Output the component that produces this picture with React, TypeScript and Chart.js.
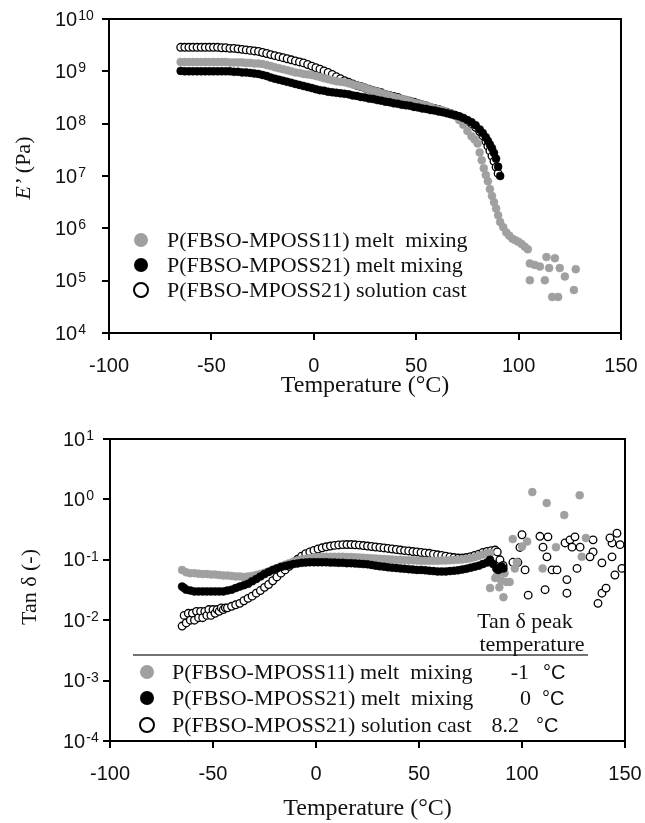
import React, { useEffect, useRef } from 'react';
import { Chart, registerables } from 'chart.js';

Chart.register(...registerables);

const SERIF = '"Liberation Serif", "Times New Roman", serif';
const SANS = '"Liberation Sans", Arial, sans-serif';
const GRAY = '#a0a0a0';

// ---------- Top panel: storage modulus E' (Pa) vs temperature (°C) ----------
const eGray: [number, number][] = [
  [-65, 1.51e9], [-63, 1.51e9], [-61, 1.51e9], [-59, 1.51e9], [-57, 1.51e9], [-55, 1.51e9], [-53, 1.51e9], [-51, 1.51e9],
  [-49, 1.51e9], [-47, 1.51e9], [-45, 1.51e9], [-43, 1.51e9], [-41, 1.48e9], [-39, 1.48e9], [-37, 1.48e9], [-35, 1.48e9],
  [-33, 1.45e9], [-31, 1.45e9], [-29, 1.41e9], [-27, 1.41e9], [-25, 1.38e9], [-23, 1.32e9], [-21, 1.26e9], [-19, 1.2e9],
  [-17, 1.15e9], [-15, 1.1e9], [-13, 1.05e9], [-11, 1.0e9], [-9, 9.55e8], [-7, 9.33e8], [-5, 8.91e8], [-3, 8.71e8],
  [-1, 8.51e8], [1, 8.13e8], [3, 7.76e8], [5, 7.41e8], [7, 7.08e8], [9, 6.76e8], [11, 6.46e8], [13, 6.31e8],
  [15, 6.17e8], [17, 5.89e8], [19, 5.62e8], [21, 5.37e8], [23, 5.13e8], [25, 4.79e8], [27, 4.57e8], [29, 4.27e8],
  [31, 4.07e8], [33, 3.8e8], [35, 3.63e8], [37, 3.47e8], [39, 3.24e8], [41, 3.09e8], [43, 2.95e8], [45, 2.82e8],
  [47, 2.69e8], [49, 2.51e8], [51, 2.4e8], [53, 2.29e8], [55, 2.19e8], [57, 2.09e8], [59, 1.95e8], [61, 1.86e8],
  [63, 1.78e8], [65, 1.66e8], [67, 1.55e8], [69, 1.41e8], [71, 1.17e8], [73, 9.55e7], [75, 7.24e7], [77, 5.75e7],
  [78.5, 5.01e7], [80, 4.17e7], [81, 2.82e7], [82, 2.0e7], [83, 1.41e7], [84, 1.05e7], [85, 7.94e6], [86, 5.62e6],
  [87, 4.17e6], [88, 3.16e6], [89, 2.4e6], [90, 1.78e6], [91, 1.32e6], [92.5, 1.05e6], [94, 8.32e5], [95.5, 7.24e5],
  [97, 6.31e5], [98.5, 5.89e5], [100, 5.5e5], [101.5, 5.01e5], [103, 4.47e5], [104.5, 3.98e5],
  [105.5, 2.14e5], [107.9, 2.0e5], [110.4, 1.86e5], [105.5, 1.02e5], [112.8, 1.02e5], [113.6, 2.82e5], [117.7, 2.69e5],
  [114.9, 1.74e5], [120.1, 1.74e5], [122.6, 1.2e5], [116.4, 4.9e4], [119.3, 4.9e4], [127.9, 1.66e5], [127, 6.61e4],
];

const eBlack: [number, number][] = [
  [-65, 1.02e9], [-63, 1.0e9], [-61, 1.0e9], [-59, 1.0e9], [-57, 1.0e9], [-55, 1.0e9], [-53, 1.0e9], [-51, 1.0e9],
  [-49, 1.0e9], [-47, 1.0e9], [-45, 1.0e9], [-43, 1.0e9], [-41, 1.0e9], [-39, 9.77e8], [-37, 9.77e8], [-35, 9.55e8],
  [-33, 9.55e8], [-31, 9.33e8], [-29, 9.12e8], [-27, 8.91e8], [-25, 8.51e8], [-23, 8.13e8], [-21, 7.59e8], [-19, 7.24e8],
  [-17, 6.92e8], [-15, 6.61e8], [-13, 6.31e8], [-11, 6.03e8], [-9, 5.75e8], [-7, 5.5e8], [-5, 5.25e8], [-3, 5.01e8],
  [-1, 4.79e8], [1, 4.57e8], [3, 4.37e8], [5, 4.27e8], [7, 4.07e8], [9, 3.98e8], [11, 3.89e8], [13, 3.8e8],
  [15, 3.72e8], [17, 3.63e8], [19, 3.47e8], [21, 3.39e8], [23, 3.24e8], [25, 3.16e8], [27, 3.02e8], [29, 2.95e8],
  [31, 2.82e8], [33, 2.75e8], [35, 2.63e8], [37, 2.57e8], [39, 2.45e8], [41, 2.4e8], [43, 2.29e8], [45, 2.24e8],
  [47, 2.19e8], [49, 2.09e8], [51, 2.04e8], [53, 1.95e8], [55, 1.91e8], [57, 1.82e8], [59, 1.78e8], [61, 1.7e8],
  [63, 1.66e8], [65, 1.58e8], [67, 1.51e8], [69, 1.45e8], [71, 1.38e8], [73, 1.29e8], [75, 1.17e8], [77, 1.07e8],
  [79, 9.33e7], [81, 7.76e7], [82.5, 6.61e7], [84, 5.5e7], [85, 4.68e7], [86, 3.98e7], [87, 3.39e7], [88, 2.75e7],
  [89, 2.14e7], [90, 1.51e7], [91, 1.0e7],
];

const eOpen: [number, number][] = [
  [-65, 2.88e9], [-63, 2.88e9], [-61, 2.88e9], [-59, 2.88e9], [-57, 2.88e9], [-55, 2.88e9], [-53, 2.88e9], [-51, 2.88e9],
  [-49, 2.88e9], [-47, 2.88e9], [-45, 2.82e9], [-43, 2.82e9], [-41, 2.75e9], [-39, 2.75e9], [-37, 2.69e9], [-35, 2.63e9],
  [-33, 2.57e9], [-31, 2.51e9], [-29, 2.45e9], [-27, 2.4e9], [-25, 2.29e9], [-23, 2.19e9], [-21, 2.09e9], [-19, 2.0e9],
  [-17, 1.91e9], [-15, 1.82e9], [-13, 1.74e9], [-11, 1.66e9], [-9, 1.58e9], [-7, 1.51e9], [-5, 1.45e9], [-3, 1.35e9],
  [-1, 1.26e9], [1, 1.17e9], [3, 1.1e9], [5, 1.02e9], [7, 9.55e8], [9, 8.71e8], [11, 7.94e8], [13, 7.24e8],
  [15, 6.61e8], [17, 6.17e8], [19, 5.75e8], [21, 5.37e8], [23, 5.13e8], [25, 4.79e8], [27, 4.57e8], [29, 4.27e8],
  [31, 4.07e8], [33, 3.89e8], [35, 3.63e8], [37, 3.47e8], [39, 3.31e8], [41, 3.16e8], [43, 2.95e8], [45, 2.82e8],
  [47, 2.69e8], [49, 2.57e8], [51, 2.4e8], [53, 2.29e8], [55, 2.19e8], [57, 2.04e8], [59, 1.95e8], [61, 1.86e8],
  [63, 1.74e8], [65, 1.66e8], [67, 1.55e8], [69, 1.45e8], [71, 1.35e8], [73, 1.23e8], [75, 1.12e8], [77, 1.0e8],
  [79, 8.51e7], [81, 7.08e7], [82.5, 5.89e7], [84, 4.57e7], [85, 3.72e7], [86, 3.02e7], [87, 2.4e7], [88, 1.91e7],
  [89, 1.48e7], [90, 1.12e7],
];

// ---------- Bottom panel: tan delta (-) vs temperature (°C) ----------
const tanGray: [number, number][] = [
  [-65, 0.068], [-63, 0.062], [-61, 0.06], [-59, 0.06], [-57, 0.059], [-55, 0.058], [-53, 0.058], [-51, 0.057],
  [-49, 0.057], [-47, 0.056], [-45, 0.055], [-43, 0.055], [-41, 0.054], [-39, 0.053], [-37, 0.053], [-35, 0.052],
  [-33, 0.053], [-31, 0.054], [-29, 0.056], [-27, 0.058], [-25, 0.061], [-23, 0.064], [-21, 0.068], [-19, 0.073],
  [-17, 0.078], [-15, 0.083], [-13, 0.088], [-11, 0.093], [-9, 0.097], [-7, 0.101], [-5, 0.104], [-3, 0.107],
  [-1, 0.109], [1, 0.111], [3, 0.112], [5, 0.112], [7, 0.112], [9, 0.112], [11, 0.112], [13, 0.112],
  [15, 0.111], [17, 0.111], [19, 0.11], [21, 0.109], [23, 0.108], [25, 0.107], [27, 0.106], [29, 0.105],
  [31, 0.104], [33, 0.103], [35, 0.102], [37, 0.101], [39, 0.1], [41, 0.1], [43, 0.099], [45, 0.098],
  [47, 0.098], [49, 0.097], [51, 0.096], [53, 0.096], [55, 0.096], [57, 0.096], [59, 0.096], [61, 0.097],
  [63, 0.097], [65, 0.098], [67, 0.099], [69, 0.1], [71, 0.101], [73, 0.103], [75, 0.106], [77, 0.11],
  [79, 0.116], [81, 0.122], [83, 0.128], [84.5, 0.13], [84.5, 0.034], [87, 0.05], [88, 0.056], [89, 0.035],
  [90, 0.045], [91, 0.024], [91.5, 0.06], [92.5, 0.043], [94, 0.043], [96.5, 0.072], [97.5, 0.091], [95.5, 0.22],
  [100, 0.166], [102.5, 0.2], [105, 1.32], [112, 0.87], [120.5, 0.55], [128, 1.17], [110, 0.072], [116.5, 0.162],
  [129, 0.112], [131, 0.23],
];

const tanBlack: [number, number][] = [
  [-65, 0.036], [-64, 0.034], [-63, 0.032], [-61, 0.031], [-59, 0.03], [-57, 0.03], [-55, 0.03], [-53, 0.03],
  [-51, 0.03], [-49, 0.03], [-47, 0.03], [-45, 0.03], [-43, 0.031], [-41, 0.032], [-39, 0.034], [-37, 0.036],
  [-35, 0.038], [-33, 0.04], [-31, 0.044], [-29, 0.048], [-27, 0.053], [-25, 0.058], [-23, 0.063], [-21, 0.068],
  [-19, 0.072], [-17, 0.076], [-15, 0.079], [-13, 0.082], [-11, 0.085], [-9, 0.087], [-7, 0.089], [-5, 0.09],
  [-3, 0.091], [-1, 0.091], [1, 0.091], [3, 0.091], [5, 0.091], [7, 0.09], [9, 0.09], [11, 0.089],
  [13, 0.089], [15, 0.088], [17, 0.088], [19, 0.087], [21, 0.086], [23, 0.085], [25, 0.084], [27, 0.082],
  [29, 0.08], [31, 0.078], [33, 0.077], [35, 0.075], [37, 0.074], [39, 0.073], [41, 0.072], [43, 0.071],
  [45, 0.07], [47, 0.069], [49, 0.068], [51, 0.068], [53, 0.067], [55, 0.066], [57, 0.065], [59, 0.064],
  [61, 0.064], [63, 0.064], [65, 0.065], [67, 0.066], [69, 0.067], [71, 0.069], [73, 0.071], [75, 0.074],
  [77, 0.077], [79, 0.08], [81, 0.085], [83, 0.09], [84.5, 0.1], [86, 0.085], [87.5, 0.072], [88.5, 0.068],
  [90, 0.078], [91, 0.072],
];

const tanOpen: [number, number][] = [
  [-65, 0.008], [-64, 0.012], [-63, 0.009], [-62, 0.013], [-61, 0.01], [-60, 0.013], [-59, 0.01], [-58, 0.014],
  [-57, 0.011], [-56, 0.014], [-55, 0.011], [-54, 0.014], [-53, 0.012], [-52, 0.015], [-51, 0.012], [-50, 0.015],
  [-49, 0.013], [-48, 0.015], [-47, 0.014], [-46, 0.016], [-45, 0.015], [-44, 0.016], [-43, 0.016], [-41, 0.017],
  [-39, 0.018], [-37, 0.019], [-35, 0.021], [-33, 0.023], [-31, 0.025], [-29, 0.028], [-27, 0.031], [-25, 0.035],
  [-23, 0.039], [-21, 0.045], [-19, 0.052], [-17, 0.06], [-15, 0.068], [-13, 0.078], [-11, 0.09], [-9, 0.102],
  [-7, 0.115], [-5, 0.126], [-3, 0.135], [-1, 0.143], [1, 0.151], [3, 0.158], [5, 0.164], [7, 0.169],
  [9, 0.173], [11, 0.176], [13, 0.178], [15, 0.179], [17, 0.179], [19, 0.177], [21, 0.175], [23, 0.172],
  [25, 0.169], [27, 0.166], [29, 0.163], [31, 0.16], [33, 0.157], [35, 0.154], [37, 0.151], [39, 0.148],
  [41, 0.145], [43, 0.142], [45, 0.14], [47, 0.137], [49, 0.135], [51, 0.132], [53, 0.13], [55, 0.128],
  [57, 0.124], [59, 0.121], [61, 0.118], [63, 0.115], [65, 0.112], [67, 0.109], [69, 0.107], [71, 0.107],
  [73, 0.109], [75, 0.113], [77, 0.118], [79, 0.124], [81, 0.132], [83, 0.138], [85, 0.142], [87, 0.145],
  [88, 0.135], [89.3, 0.1], [90.8, 0.081], [95.6, 0.091], [98, 0.091], [99, 0.16], [100, 0.26], [101.5, 0.068],
  [103, 0.026], [108.7, 0.245], [110.2, 0.162], [112.6, 0.24], [112.1, 0.112], [111.2, 0.032], [114.6, 0.068], [117, 0.068],
  [121.8, 0.047], [121.8, 0.028], [126.7, 0.072], [120.9, 0.19], [123.3, 0.214], [125.7, 0.24], [124.3, 0.162], [128.2, 0.162],
  [134.5, 0.135], [133, 0.112], [138.8, 0.089], [136.9, 0.019], [138.8, 0.028], [140.8, 0.034], [143.7, 0.19], [146.1, 0.275],
  [147.6, 0.178], [143.7, 0.112], [145.1, 0.056], [148.5, 0.072], [134.5, 0.214], [142.7, 0.23],
];

// ---------- Axis ticks and text ----------
const xMin = -100;
const xMax = 150;
const xStep = 50;
const eTicks = [1e4, 1e5, 1e6, 1e7, 1e8, 1e9, 1e10];
const eTickExps = ['4', '5', '6', '7', '8', '9', '10'];
const tanTicks = [1e-4, 1e-3, 1e-2, 1e-1, 1e0, 1e1];
const tanTickExps = ['-4', '-3', '-2', '-1', '0', '1'];
const xTitle = 'Temperature (°C)';
const legendTop = ['P(FBSO-MPOSS11) melt  mixing', 'P(FBSO-MPOSS21) melt mixing', 'P(FBSO-MPOSS21) solution cast'];
const legendBottom = ['P(FBSO-MPOSS11) melt  mixing', 'P(FBSO-MPOSS21) melt  mixing', 'P(FBSO-MPOSS21) solution cast'];
const peakHeader = ['Tan δ peak', 'temperature'];
const peakTemps = ['-1', '0', '8.2'];
const kinds = ['gray', 'black', 'open'];

function styleFor(kind: string) {
  if (kind === 'gray') return { fill: GRAY, stroke: GRAY };
  if (kind === 'black') return { fill: '#000', stroke: '#000' };
  return { fill: '#fff', stroke: '#000' };
}

function dataset(label: string, pts: [number, number][], kind: string, r: number, order: number) {
  const s = styleFor(kind);
  return {
    label,
    data: pts.map(([x, y]) => ({ x, y })),
    showLine: false,
    pointRadius: r,
    pointHoverRadius: r,
    pointBackgroundColor: s.fill,
    pointBorderColor: s.stroke,
    pointBorderWidth: kind === 'open' ? 1.3 : 0.5,
    order,
  };
}

function drawMarker(ctx: CanvasRenderingContext2D, kind: string, x: number, y: number, r: number) {
  const s = styleFor(kind);
  ctx.beginPath();
  ctx.arc(x, y, r, 0, Math.PI * 2);
  ctx.fillStyle = s.fill;
  ctx.fill();
  if (kind === 'open') {
    ctx.lineWidth = 2;
    ctx.strokeStyle = s.stroke;
    ctx.stroke();
  }
}

function drawYLabels(chart: any, ticks: number[], exps: string[], x: number) {
  const ctx: CanvasRenderingContext2D = chart.ctx;
  const y = chart.scales.y;
  ticks.forEach((v, i) => {
    const py = y.getPixelForValue(v);
    ctx.fillStyle = '#111';
    ctx.font = `20px ${SANS}`;
    ctx.textAlign = 'left';
    ctx.textBaseline = 'middle';
    ctx.fillText('10', x, py + 1);
    const w = ctx.measureText('10').width;
    ctx.font = `14px ${SANS}`;
    ctx.textBaseline = 'alphabetic';
    ctx.fillText(exps[i], x + w + 1, py + 1);
  });
}

function drawFrame(chart: any) {
  const ctx: CanvasRenderingContext2D = chart.ctx;
  const a = chart.chartArea;
  ctx.strokeStyle = '#000';
  ctx.lineWidth = 2;
  ctx.beginPath();
  ctx.moveTo(a.left - 1, a.top);
  ctx.lineTo(a.right, a.top);
  ctx.lineTo(a.right, a.bottom + 1);
  ctx.stroke();
}

const topPlugin = {
  id: 'topDecor',
  afterDraw(chart: any) {
    const ctx: CanvasRenderingContext2D = chart.ctx;
    ctx.save();
    drawFrame(chart);
    drawYLabels(chart, eTicks, eTickExps, 55);
    // y title: E' (Pa), E' italic
    ctx.translate(24, 168);
    ctx.rotate(-Math.PI / 2);
    ctx.fillStyle = '#111';
    ctx.textBaseline = 'middle';
    ctx.textAlign = 'left';
    ctx.font = `italic 22px ${SERIF}`;
    const a = 'E’';
    const wa = ctx.measureText(a).width;
    ctx.font = `22px ${SERIF}`;
    const b = ' (Pa)';
    const wb = ctx.measureText(b).width;
    ctx.font = `italic 22px ${SERIF}`;
    ctx.fillText(a, -(wa + wb) / 2, 0);
    ctx.font = `22px ${SERIF}`;
    ctx.fillText(b, -(wa + wb) / 2 + wa, 0);
    ctx.setTransform(1, 0, 0, 1, 0, 0);
    // legend
    const rows = [240, 265, 290];
    legendTop.forEach((t, i) => {
      drawMarker(ctx, kinds[i], 141, rows[i], 7);
      ctx.fillStyle = '#111';
      ctx.font = `22px ${SERIF}`;
      ctx.textAlign = 'left';
      ctx.textBaseline = 'middle';
      ctx.fillText(t, 167, rows[i] + 1);
    });
    ctx.restore();
  },
};

const bottomPlugin = {
  id: 'bottomDecor',
  afterDraw(chart: any) {
    const ctx: CanvasRenderingContext2D = chart.ctx;
    ctx.save();
    drawFrame(chart);
    drawYLabels(chart, tanTicks, tanTickExps, 63);
    // y title
    ctx.translate(30, 187);
    ctx.rotate(-Math.PI / 2);
    ctx.fillStyle = '#111';
    ctx.textBaseline = 'middle';
    ctx.textAlign = 'center';
    ctx.font = `22px ${SERIF}`;
    ctx.fillText('Tan δ (-)', 0, 0);
    ctx.setTransform(1, 0, 0, 1, 0, 0);
    // legend table
    ctx.strokeStyle = '#444';
    ctx.lineWidth = 1.5;
    ctx.beginPath();
    ctx.moveTo(133, 255);
    ctx.lineTo(588, 255);
    ctx.stroke();
    ctx.fillStyle = '#111';
    ctx.font = `22px ${SERIF}`;
    ctx.textAlign = 'center';
    ctx.textBaseline = 'middle';
    ctx.fillText(peakHeader[0], 525, 222);
    ctx.fillText(peakHeader[1], 532, 245);
    const rows = [272, 298, 325];
    const numRight = [529, 531, 519];
    const degLeft = [543, 542, 536];
    legendBottom.forEach((t, i) => {
      drawMarker(ctx, kinds[i], 147, rows[i], 7);
      ctx.fillStyle = '#111';
      ctx.font = `22px ${SERIF}`;
      ctx.textAlign = 'left';
      ctx.textBaseline = 'middle';
      ctx.fillText(t, 172, rows[i] + 1);
      ctx.textAlign = 'right';
      ctx.fillText(peakTemps[i], numRight[i], rows[i] + 1);
      ctx.textAlign = 'left';
      ctx.font = `20px ${SANS}`;
      ctx.fillText('°C', degLeft[i], rows[i] + 1);
    });
    ctx.restore();
  },
};

function xScale(height: number) {
  return {
    type: 'linear',
    min: xMin,
    max: xMax,
    ticks: { stepSize: xStep, color: '#111', font: { family: SANS, size: 20 }, padding: 14, maxRotation: 0, autoSkip: false },
    grid: { drawOnChartArea: false, drawTicks: true, tickLength: 7, color: '#000', lineWidth: 2 },
    border: { display: true, color: '#000', width: 2 },
    title: { display: true, text: xTitle, color: '#111', font: { family: SERIF, size: 24 }, padding: { top: 0, bottom: 0 } },
    afterFit: (s: any) => {
      s.height = height;
      s.paddingLeft = 0;
      s.paddingRight = 0;
    },
  };
}

function yScale(min: number, max: number, ticks: number[], width: number) {
  return {
    type: 'logarithmic',
    min,
    max,
    afterBuildTicks: (s: any) => {
      s.ticks = ticks.map((v) => ({ value: v, major: true }));
    },
    ticks: { display: false },
    grid: { drawOnChartArea: false, drawTicks: true, tickLength: 7, color: '#000', lineWidth: 2 },
    border: { display: true, color: '#000', width: 2 },
    afterFit: (s: any) => {
      s.width = width;
      s.paddingTop = 0;
      s.paddingBottom = 0;
    },
  };
}

function baseOptions(padding: any, xs: any, ys: any) {
  return {
    responsive: false,
    animation: false,
    events: [],
    layout: { padding },
    plugins: { legend: { display: false }, tooltip: { enabled: false }, title: { display: false } },
    scales: { x: xs, y: ys },
  };
}

function topConfig(): any {
  return {
    type: 'scatter',
    data: {
      datasets: [
        dataset(legendTop[0], eGray, 'gray', 4, 1),
        dataset(legendTop[1], eBlack, 'black', 4, 0),
        dataset(legendTop[2], eOpen, 'open', 3.8, 2),
      ],
    },
    options: baseOptions({ top: 19, right: 24, left: 0, bottom: 0 }, xScale(67), yScale(1e4, 1e10, eTicks, 109)),
    plugins: [topPlugin],
  };
}

function bottomConfig(): any {
  return {
    type: 'scatter',
    data: {
      datasets: [
        dataset(legendBottom[0], tanGray, 'gray', 4, 1),
        dataset(legendBottom[1], tanBlack, 'black', 4, 0),
        dataset(legendBottom[2], tanOpen, 'open', 3.8, 2),
      ],
    },
    options: baseOptions({ top: 39, right: 20, left: 0, bottom: 0 }, xScale(82), yScale(1e-4, 1e1, tanTicks, 110)),
    plugins: [bottomPlugin],
  };
}

function ChartCanvas({ top, height, build }: { top: number; height: number; build: () => any }) {
  const ref = useRef<HTMLCanvasElement>(null);
  useEffect(() => {
    const chart = new Chart(ref.current as HTMLCanvasElement, build());
    return () => chart.destroy();
  }, []);
  return (
    <canvas
      ref={ref}
      width={645}
      height={height}
      style={{ position: 'absolute', left: 0, top, width: 645, height, display: 'block' }}
    />
  );
}

export default function App() {
  return (
    <div style={{ position: 'absolute', left: 0, top: 0, width: 645, height: 823, background: '#fff' }}>
      <ChartCanvas top={0} height={400} build={topConfig} />
      <ChartCanvas top={400} height={423} build={bottomConfig} />
    </div>
  );
}
